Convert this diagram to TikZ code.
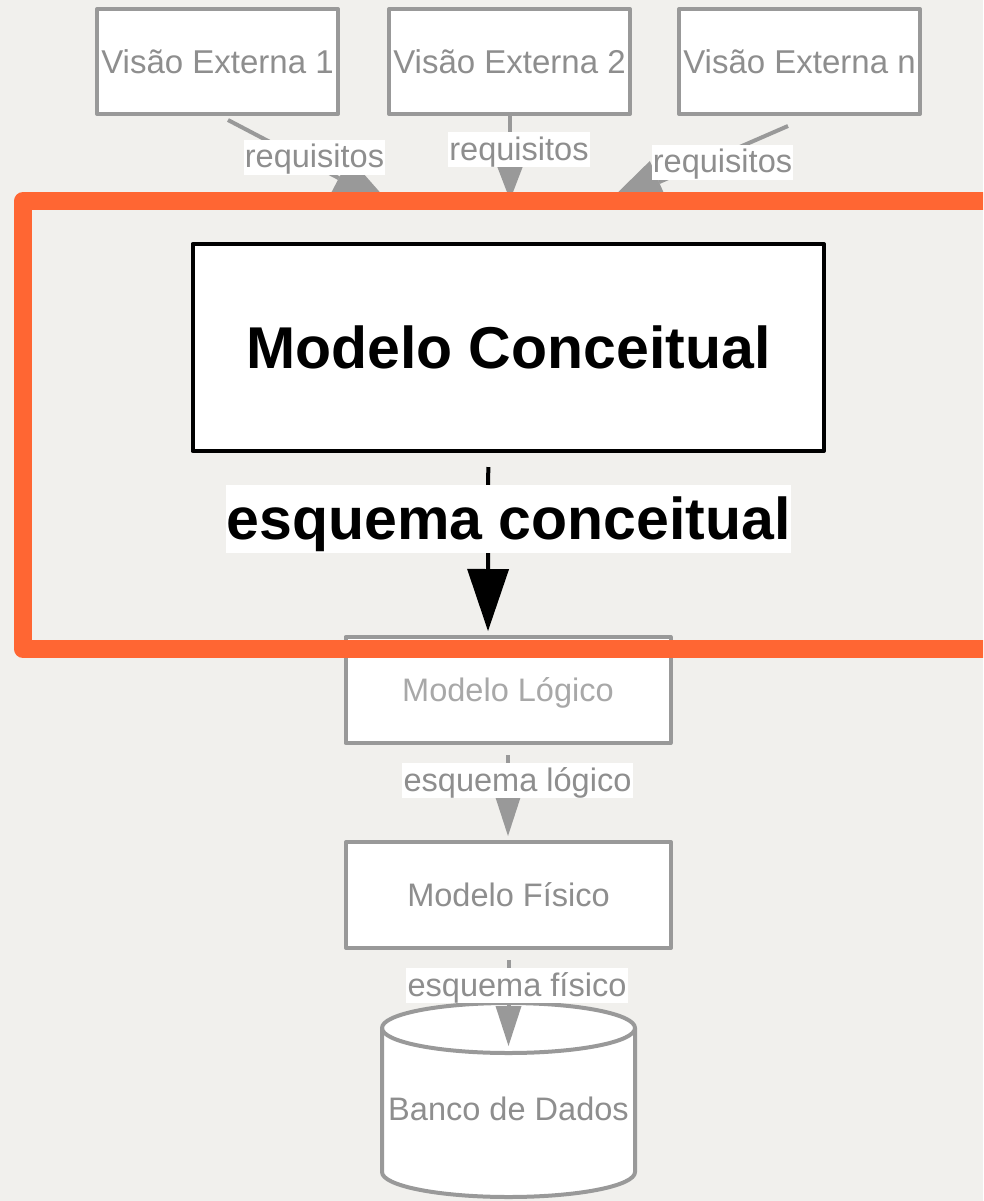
\documentclass[tikz,border=0pt]{standalone}
\usepackage{fontspec}
\setmainfont{Liberation Sans}
\usetikzlibrary{arrows.meta}
\definecolor{bgc}{HTML}{F1F0ED}
\definecolor{orng}{HTML}{FF6633}
\definecolor{gln}{HTML}{999999}
\definecolor{gtx}{HTML}{8E8E8E}
\definecolor{gtxl}{HTML}{A8A8A8}
\begin{document}
\begin{tikzpicture}[x=0.75pt,y=0.75pt,
  box/.style={draw=gln, line width=3pt, fill=white, inner sep=0pt, line join=round},
  vbox/.style={box, minimum width=180.75pt, minimum height=78.75pt, text=gtx,
    font=\fontsize{24.75pt}{26pt}\selectfont, text height=17.7pt, text depth=0pt},
  mbox/.style={box, minimum width=243.75pt, minimum height=79.5pt, text=gtx,
    font=\fontsize{24.4pt}{26pt}\selectfont, text height=17.5pt, text depth=0pt},
  cbox/.style={draw=black, line width=3pt, fill=white, inner sep=0pt, line join=round,
    minimum width=473.6pt, minimum height=155.25pt,
    font=\fontsize{44.25pt}{46pt}\selectfont\bfseries, text height=31.7pt, text depth=0pt},
  glabel/.style={fill=white, text=gtx, inner xsep=1pt, inner ysep=0pt,
    font=\fontsize{24.4pt}{26pt}\selectfont, text height=21pt, text depth=5.25pt},
  blabel/.style={fill=white, text=black, inner xsep=0.5pt, inner ysep=0pt,
    font=\fontsize{44.25pt}{46pt}\selectfont\bfseries, text height=40.5pt, text depth=10.5pt},
  garrow/.style={draw=gln, line width=3pt, -{Triangle[length=30pt,width=19.5pt,line width=0pt]}},
  gtop/.style={draw=gln, line width=3pt, -{Triangle[length=45pt,width=34.5pt,line width=0pt]}},
  barrow/.style={draw=black, line width=3pt, -{Triangle[length=46.5pt,width=31.5pt,line width=0pt]}},
  frame/.style={draw=orng, line width=13.5pt, line join=round}
]
\useasboundingbox (0,0) rectangle (983,-1201);
\clip (0,0) rectangle (983,-1201);
\fill[bgc] (0,0) rectangle (983,-1201);

% external views
\node[vbox] (v1) at (217.5,-61.5) {Visão Externa 1};
\node[vbox] (v2) at (509.5,-61.5) {Visão Externa 2};
\node[vbox] (vn) at (799.5,-61.5) {Visão Externa n};

% conceptual model
\node[cbox] (mc) at (508.25,-347.5) {Modelo Conceitual};

% logical and physical models
\node[mbox, text=gtxl] (ml) at (508,-690) {Modelo Lógico};
\node[mbox] (mf) at (508.5,-895) {Modelo Físico};

% database cylinder
\filldraw[draw=gln, fill=white, line width=3pt, line join=round]
  (382,-1028) -- (382,-1172)
  arc[start angle=180, end angle=360, x radius=94.875pt, y radius=18.75pt]
  -- (635,-1028)
  arc[start angle=0, end angle=180, x radius=94.875pt, y radius=18.75pt] -- cycle;
\draw[draw=gln, line width=3pt]
  (382,-1028) arc[start angle=180, end angle=360, x radius=94.875pt, y radius=18.75pt];
\node[text=gtx, font=\fontsize{24.4pt}{26pt}\selectfont, text height=17.5pt, text depth=0pt, inner sep=0pt]
  (db) at (508.5,-1108.5) {Banco de Dados};
\coordinate (dbtop) at (508.5,-1046);

% arrow end points hidden under the orange frame
\coordinate (t1) at (392,-206);
\coordinate (t2) at (510,-200);
\coordinate (t3) at (604,-206);

% connectors
\draw[gtop] ([xshift=7.875pt,yshift=-3pt]v1.south) -- (t1);
\draw[gtop] ([xshift=0.375pt]v2.south) -- (t2);
\draw[gtop] ([xshift=-8.625pt,yshift=-7.5pt]vn.south) -- (t3);
\draw[barrow] ([xshift=-15pt,yshift=-10.5pt]mc.south) -- ([xshift=-15pt,yshift=3pt]ml.north);
\draw[garrow, shorten <=7.5pt, shorten >=3pt] (ml.south) -- (ml.south |- mf.north);
\draw[garrow, shorten <=7.5pt] (mf.south) -- (dbtop);

% labels
\node[glabel] (r1) at (314.5,-157.5) {requisitos};
\node[glabel] (r2) at (519,-150) {requisitos};
\node[glabel] (r3) at (722.5,-162.5) {requisitos};
\node[blabel] (lc) at (508.5,-519) {esquema conceitual};
\node[glabel] (ll) at (517.5,-780.5) {esquema lógico};
\node[glabel] (lf) at (517,-985.5) {esquema físico};

% orange highlight frame
\draw[frame] (1010,-201.5) -- (22.5,-201.5) -- (22.5,-648.5) -- (1010,-648.5);
\end{tikzpicture}
\end{document}
